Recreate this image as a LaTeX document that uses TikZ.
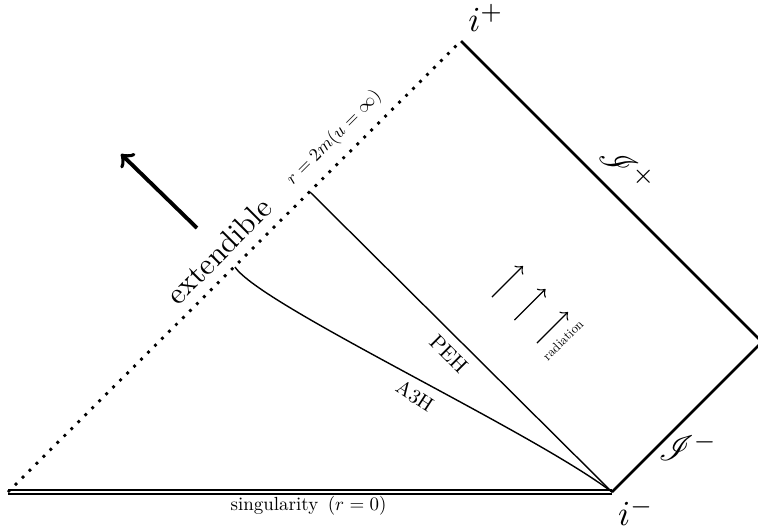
\documentclass[tikz,border=0pt]{standalone}
\usepackage{amsmath,amssymb}
\usepackage{mathrsfs}
\usetikzlibrary{positioning,arrows}

\begin{document}
\begin{tikzpicture}[
		horizon/.style={line width=0.4pt},
		ray/.style={->,line width=0.4pt}]
			\useasboundingbox (0,0) rectangle (7.58,5.30);
			\coordinate (bl) at (0.08,0.38);
			\coordinate (im) at (6.12,0.38);
			\coordinate (ip) at (4.61,4.89);
			\coordinate (io) at (7.62,1.88);
			\coordinate (peh) at (3.10,3.38);
			\coordinate (aeh) at (2.35,2.63);
			% edges of the diagram
			\draw[double,line width=0.65pt,double distance=0.35pt] (bl) -- (im);
			\draw[thick] (im) -- (io) -- (ip);
			\draw[dotted,thick] (bl) -- (ip);
			% horizons
			\draw[horizon] (im) -- (peh);
			\draw[horizon] (aeh) .. controls (2.6,2.25) and (5.3,1.0) .. (im);
			\foreach \k in {0,1,2}
				\draw[ray] ({4.92+0.225*\k},{2.33-0.23*\k}) -- ++(0.31,0.31);
			\draw[->,line width=1.1pt] (1.97,3.02) -- (1.21,3.76);
			% labels
			\node (iplus) at (4.86,5.12) {$i^+$};
			\node (iminus) at (6.36,0.18) {$i^-$};
			\node[rotate=-45] (scrip) at (6.28,3.62) {$\mathscr{I}^+$};
			\node (scrim) at (6.88,0.83) {$\mathscr{I}^-$};
			\node[rotate=45,scale=0.86] (ext) at (2.19,2.79) {extendible};
			\node[rotate=45,scale=0.52] (rinf) at (3.34,3.92) {$r=2m(u=\infty)$};
			\node[scale=0.54] (sing) at (3.085,0.24) {singularity\enspace($r=0$)};
			\node[rotate=-45,scale=0.6] (pehl) at (4.49,1.76) {PEH};
			\node[rotate=-33,scale=0.57] (aehl) at (4.15,1.34) {A3H};
			\node[rotate=45,scale=0.37] (rad) at (5.63,1.90) {radiation};
		\end{tikzpicture}
\end{document}
